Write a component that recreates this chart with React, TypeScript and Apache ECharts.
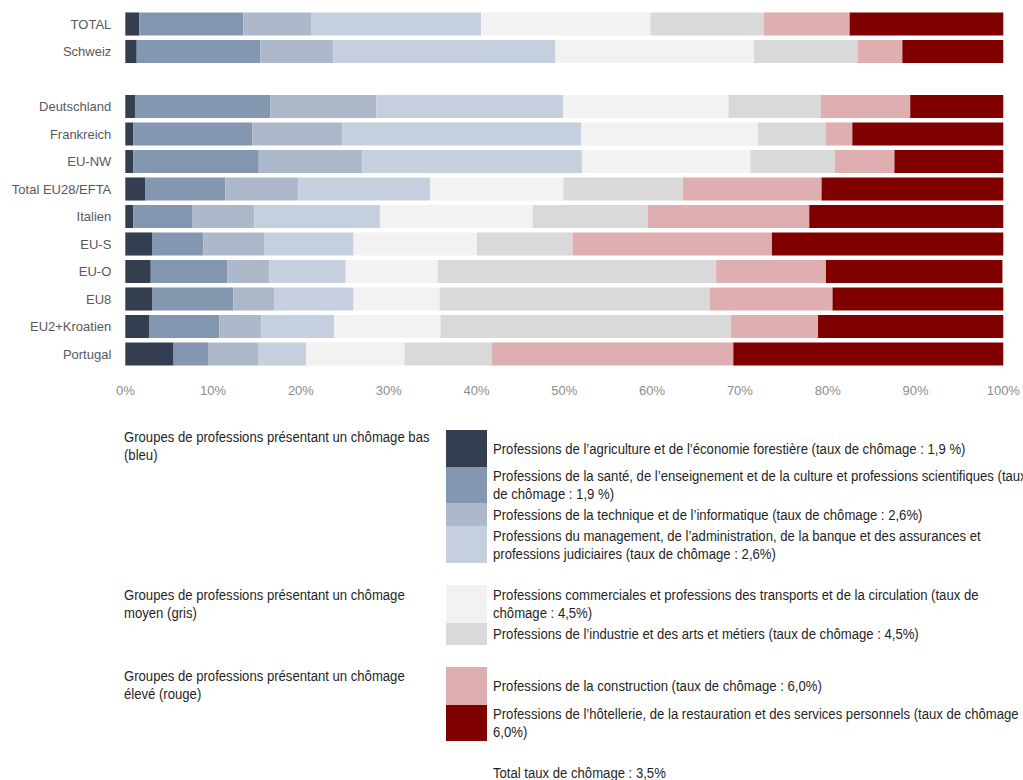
import React, { useEffect, useRef } from "react";
import * as echarts from "echarts";

const categories = [
  "TOTAL", "Schweiz", "", "Deutschland", "Frankreich", "EU-NW", "Total EU28/EFTA",
  "Italien", "EU-S", "EU-O", "EU8", "EU2+Kroatien", "Portugal",
];

const agriculture = [1.6, 1.3, null, 1.1, 0.9, 0.9, 2.3, 0.9, 3.1, 2.9, 3.1, 2.7, 5.5];
const sante = [11.85, 14.1, null, 15.4, 13.55, 14.3, 9.1, 6.7, 5.8, 8.7, 9.2, 8.0, 4.0];
const technique = [7.7, 8.3, null, 12.1, 10.25, 11.8, 8.3, 7.1, 6.9, 4.8, 4.7, 4.8, 5.7];
const management = [19.4, 25.3, null, 21.3, 27.25, 25.0, 15.0, 14.3, 10.2, 8.7, 9.0, 8.3, 5.4];
const commerce = [19.25, 22.6, null, 18.8, 20.1, 19.2, 15.2, 17.4, 14.05, 10.5, 9.8, 12.1, 11.2];
const industrie = [12.9, 11.8, null, 10.5, 7.7, 9.6, 13.6, 13.1, 10.9, 31.7, 30.75, 33.1, 9.95];
const construction = [9.8, 5.1, null, 10.2, 3.05, 6.8, 15.8, 18.4, 22.7, 12.5, 14.0, 9.9, 27.5];
const hotellerie = [17.5, 11.5, null, 10.7, 17.2, 12.4, 20.7, 22.1, 26.4, 20.1, 19.5, 21.1, 30.75];

const seriesNames = [
  "Professions de l’agriculture et de l’économie forestière (taux de chômage : 1,9 %)",
  "Professions de la santé, de l’enseignement et de la culture et professions scientifiques (taux\nde chômage : 1,9 %)",
  "Professions de la technique et de l’informatique (taux de chômage : 2,6%)",
  "Professions du management, de l’administration, de la banque et des assurances et\nprofessions judiciaires (taux de chômage : 2,6%)",
  "Professions commerciales et professions des transports et de la circulation (taux de\nchômage : 4,5%)",
  "Professions de l’industrie et des arts et métiers (taux de chômage : 4,5%)",
  "Professions de la construction (taux de chômage : 6,0%)",
  "Professions de l’hôtellerie, de la restauration et des services personnels (taux de chômage\n6,0%)",
];
const seriesData = [agriculture, sante, technique, management, commerce, industrie, construction, hotellerie];
const colors = ["#333f50", "#8497b0", "#adb9ca", "#c6cfdd", "#f2f2f2", "#d9d9d9", "#dfaeb0", "#800000"];

const groupLabels = [
  "Groupes de professions présentant un chômage bas\n(bleu)",
  "Groupes de professions présentant un chômage\nmoyen (gris)",
  "Groupes de professions présentant un chômage\nélevé (rouge)",
];
const totalLabel = "Total taux de chômage : 3,5%";
const xTicks = [0, 10, 20, 30, 40, 50, 60, 70, 80, 90, 100];

const FONT = "'Liberation Sans', Arial, sans-serif";
const NARROW = 0.895;

export default function App() {
  const ref = useRef<HTMLDivElement>(null);
  useEffect(() => {
    if (!ref.current) return;
    const chart = echarts.init(ref.current, undefined, { renderer: "svg" });

    // legend layout: [top, bottom] of each swatch
    const swatches = [
      [430, 467], [467, 503], [503, 526], [526, 563],
      [585, 623], [623, 645],
      [667, 705], [705, 741],
    ];
    const textStyle = (t: string) => ({
      text: t,
      font: `14.67px ${FONT}`,
      fill: "#1f1f1f",
      lineHeight: 18,
      verticalAlign: "middle",
      align: "left",
    });
    const graphics: any[] = [];
    swatches.forEach((s, i) => {
      graphics.push({
        type: "rect",
        shape: { x: 446, y: s[0], width: 41, height: s[1] - s[0] },
        style: { fill: colors[i] },
      });
      graphics.push({
        type: "text",
        x: 493,
        y: (s[0] + s[1]) / 2,
        scaleX: NARROW,
        style: textStyle(seriesNames[i]),
      });
    });
    const groupY = [446, 604, 685];
    groupLabels.forEach((t, i) => {
      graphics.push({ type: "text", x: 124, y: groupY[i], scaleX: NARROW, style: textStyle(t) });
    });
    graphics.push({ type: "text", x: 493, y: 773, scaleX: NARROW, style: textStyle(totalLabel) });

    chart.setOption({
      animation: false,
      grid: { left: 125.3, top: 10.25, width: 878, height: 357.5, outerBoundsMode: "none", containLabel: false },
      xAxis: {
        type: "value",
        min: 0,
        max: 100,
        interval: 10,
        axisLine: { show: false },
        axisTick: { show: false },
        splitLine: { show: false },
        axisLabel: {
          formatter: (v: number) => (xTicks.includes(v) ? `${v}%` : ""),
          color: "#8c8c8c",
          fontFamily: FONT,
          fontSize: 13,
          margin: 16,
        },
      },
      yAxis: {
        type: "category",
        data: categories,
        inverse: true,
        axisLine: { show: false },
        axisTick: { show: false },
        splitLine: { show: false },
        axisLabel: { color: "#595959", fontFamily: FONT, fontSize: 13, margin: 14 },
      },
      series: seriesData.map((d, i) => ({
        type: "bar",
        name: seriesNames[i],
        stack: "all",
        data: d,
        barCategoryGap: "16%",
        itemStyle: { color: colors[i] },
      })),
      graphic: graphics,
    });
    return () => chart.dispose();
  }, []);
  return (
    <div
      ref={ref}
      style={{ position: "fixed", left: 0, top: 0, width: 1023, height: 780, background: "#fff" }}
    />
  );
}
